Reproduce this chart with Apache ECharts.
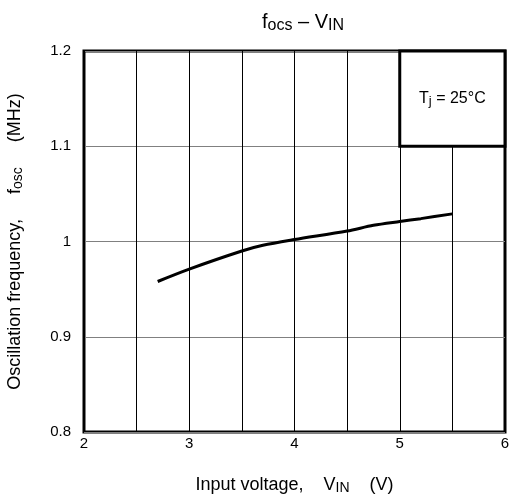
<!DOCTYPE HTML>
<html>
<head>
<meta http-equiv="Content-type" content="text/html; charset=UTF-8" />
<script type="text/javascript" src="https://cdn.jsdelivr.net/npm/echarts@6/dist/echarts.min.js"></script>
<style>
  html, body { margin: 0; padding: 0; background: #fff; }
  #main { width: 512px; height: 503px; }
</style>
</head>
<body>
<div id="main"></div>
<script>
// 输入电压 (V) 与振荡频率 (MHz)
var vin = [2.7, 3.0, 3.5, 3.7, 4.0, 4.5, 4.75, 5.0, 5.2, 5.5];
var fosc = [0.958, 0.971, 0.990, 0.996, 1.002, 1.011, 1.017, 1.021, 1.024, 1.029];
// Tj 标注框 (x0, y0) - (x1, y1)
var noteBox = [[5, 1.1], [6, 1.2]];
var noteText = ['T', 'j', ' = 25°C'];

var font = 'Liberation Sans, Arial, sans-serif';

var data = vin.map(function (v, i) { return [v, fosc[i]]; });

// 正文 + 下标 的富文本样式
function richStyle(size, subSize, drop) {
  return {
    a: { fontFamily: font, fontSize: size, color: '#000', fontWeight: 'normal' },
    b: { fontFamily: font, fontSize: subSize, color: '#000', fontWeight: 'normal', padding: [0, 0, -drop, 0] }
  };
}

var myChart = echarts.init(document.getElementById('main'));
var option = {
  backgroundColor: '#fff',
  animation: false,
  title: {
    text: '{a|f}{b|ocs}{a| – V}{b|IN}',
    left: 298,
    top: 7,
    textAlign: 'center',
    textStyle: { rich: richStyle(20, 16, 7) }
  },
  grid: {
    left: 84, right: 7, top: 51, bottom: 71,
    outerBoundsMode: 'none',
    containLabel: false,
    show: true,
    borderColor: '#000',
    borderWidth: 3,
    backgroundColor: 'transparent'
  },
  xAxis: {
    type: 'value',
    min: 2, max: 6, interval: 0.5,
    name: '{a|Input voltage,    V}{b|IN}{a|    (V)}',
    nameLocation: 'middle',
    nameGap: 44,
    nameTextStyle: { rich: richStyle(18, 14, 7) },
    axisLine: { show: false },
    axisTick: { show: false },
    axisLabel: {
      color: '#000', fontFamily: font, fontSize: 15, margin: 4,
      formatter: function (v) { return Math.abs(v - Math.round(v)) < 1e-6 ? String(Math.round(v)) : ''; }
    },
    splitLine: { show: true, lineStyle: { color: '#000', width: 1 } }
  },
  yAxis: {
    type: 'value',
    min: 0.8, max: 1.2, interval: 0.1,
    name: '{a|Oscillation frequency,     f}{b|osc}{a|     (MHz)}',
    nameLocation: 'middle',
    nameGap: 60,
    nameTextStyle: { rich: richStyle(18, 14, 7) },
    axisLine: { show: false },
    axisTick: { show: false },
    axisLabel: {
      color: '#000', fontFamily: font, fontSize: 15, margin: 13,
      formatter: function (v) { return String(+v.toFixed(1)); }
    },
    splitLine: { show: true, lineStyle: { color: '#808080', width: 1 } }
  },
  series: [{
    type: 'line',
    data: data,
    smooth: 0.3,
    showSymbol: false,
    lineStyle: { color: '#000', width: 3 },
    markArea: {
      silent: true,
      itemStyle: { color: '#fff', borderColor: '#000', borderWidth: 3 },
      label: {
        show: true,
        position: 'inside',
        formatter: '{a|' + noteText[0] + '}{b|' + noteText[1] + '}{a|' + noteText[2] + '}',
        rich: richStyle(16, 13, 6)
      },
      data: [[{ coord: noteBox[0] }, { coord: noteBox[1] }]]
    }
  }]
};
myChart.setOption(option);
</script>
</body>
</html>
